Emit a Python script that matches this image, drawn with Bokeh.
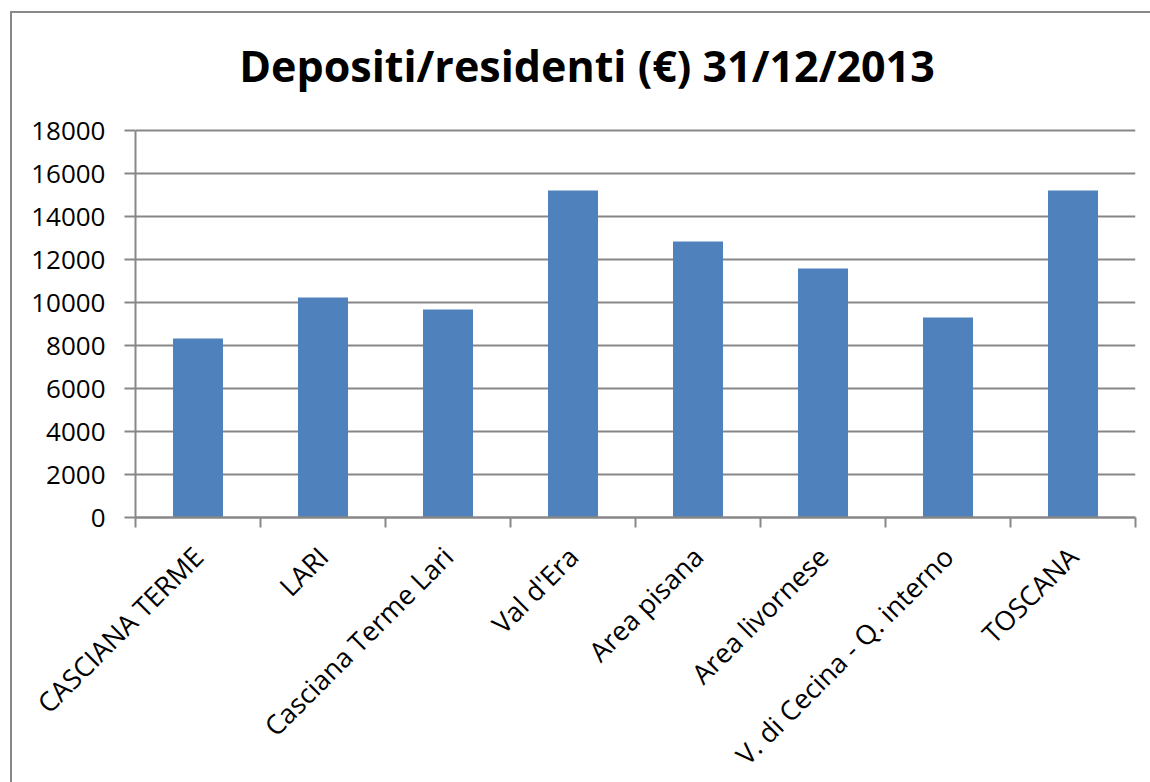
from math import pi
from bokeh.plotting import figure
from bokeh.models import FixedTicker, Range1d, Label, ColumnDataSource
from bokeh.embed import file_html
from bokeh.resources import INLINE

categories = ["CASCIANA TERME", "LARI", "Casciana Terme Lari", "Val d'Era",
              "Area pisana", "Area livornese", "V. di Cecina - Q. interno", "TOSCANA"]
values = [8330, 10240, 9680, 15220, 12850, 11590, 9310, 15220]
y_ticks = [0, 2000, 4000, 6000, 8000, 10000, 12000, 14000, 16000, 18000]
title_text = "Depositi/residenti (€) 31/12/2013"

GRID = "#878787"
FONT = "Open Sans"

# The frame also spans the title area above the value axis (0..18000)
AXIS_PX = 386.7          # pixel height of the 0..18000 span
FRAME_PX = 504           # frame height including title area
y_top = y_ticks[-1] * FRAME_PX / AXIS_PX

x_centers = [i + 0.5 for i in range(len(categories))]
x_bounds = [float(i) for i in range(len(categories) + 1)]

src = ColumnDataSource(dict(x=x_centers, top=values, name=categories))

p = figure(frame_width=1000, frame_height=FRAME_PX,
           x_range=Range1d(0, len(categories)), y_range=Range1d(0, y_top),
           output_backend="svg", toolbar_location=None,
           min_border_left=123, min_border_right=15,
           min_border_top=0, min_border_bottom=265)
p.styles = {"border-left": "2px solid #898989", "border-top": "2px solid #898989",
            "margin-left": "10px", "margin-top": "11px"}

p.vbar(x="x", top="top", width=0.4, bottom=0, source=src,
       fill_color="#4F81BD", line_color=None)

p.outline_line_color = None
p.xgrid.grid_line_color = None
p.ygrid.grid_line_color = GRID
p.ygrid.grid_line_width = 2
p.ygrid.ticker = FixedTicker(ticks=y_ticks)

# y axis
p.yaxis.ticker = FixedTicker(ticks=y_ticks)
p.yaxis.bounds = (y_ticks[0], y_ticks[-1])
p.yaxis.axis_line_color = GRID
p.yaxis.axis_line_width = 2
p.yaxis.major_tick_line_color = GRID
p.yaxis.major_tick_line_width = 2
p.yaxis.major_tick_out = 11
p.yaxis.major_tick_in = 0
p.yaxis.minor_tick_line_color = None
p.yaxis.major_label_text_font = FONT
p.yaxis.major_label_text_font_size = "26px"
p.yaxis.major_label_text_color = "black"
p.yaxis.major_label_standoff = 19

# x axis
p.xaxis.ticker = FixedTicker(ticks=x_centers, minor_ticks=x_bounds)
p.xaxis.major_label_overrides = {c: n for c, n in zip(x_centers, categories)}
p.xaxis.axis_line_color = GRID
p.xaxis.axis_line_width = 2.5
p.xaxis.major_tick_line_color = None
p.xaxis.major_tick_out = 0
p.xaxis.major_tick_in = 0
p.xaxis.minor_tick_line_color = GRID
p.xaxis.minor_tick_line_width = 2
p.xaxis.minor_tick_out = 10
p.xaxis.minor_tick_in = 0
p.xaxis.major_label_orientation = pi / 4
p.xaxis.major_label_text_font = FONT
p.xaxis.major_label_text_font_size = "27px"
p.xaxis.major_label_text_color = "black"
p.xaxis.major_label_text_line_height = 1.0
p.xaxis.major_label_standoff = 24

title = Label(text=title_text, x=451.5, y=452, x_units="screen", y_units="screen",
              text_align="center", text_baseline="alphabetic",
              text_font=FONT, text_font_size="43px", text_font_style="bold",
              text_color="black")
p.add_layout(title)

open("out.html", "w").write(file_html(p, INLINE))
